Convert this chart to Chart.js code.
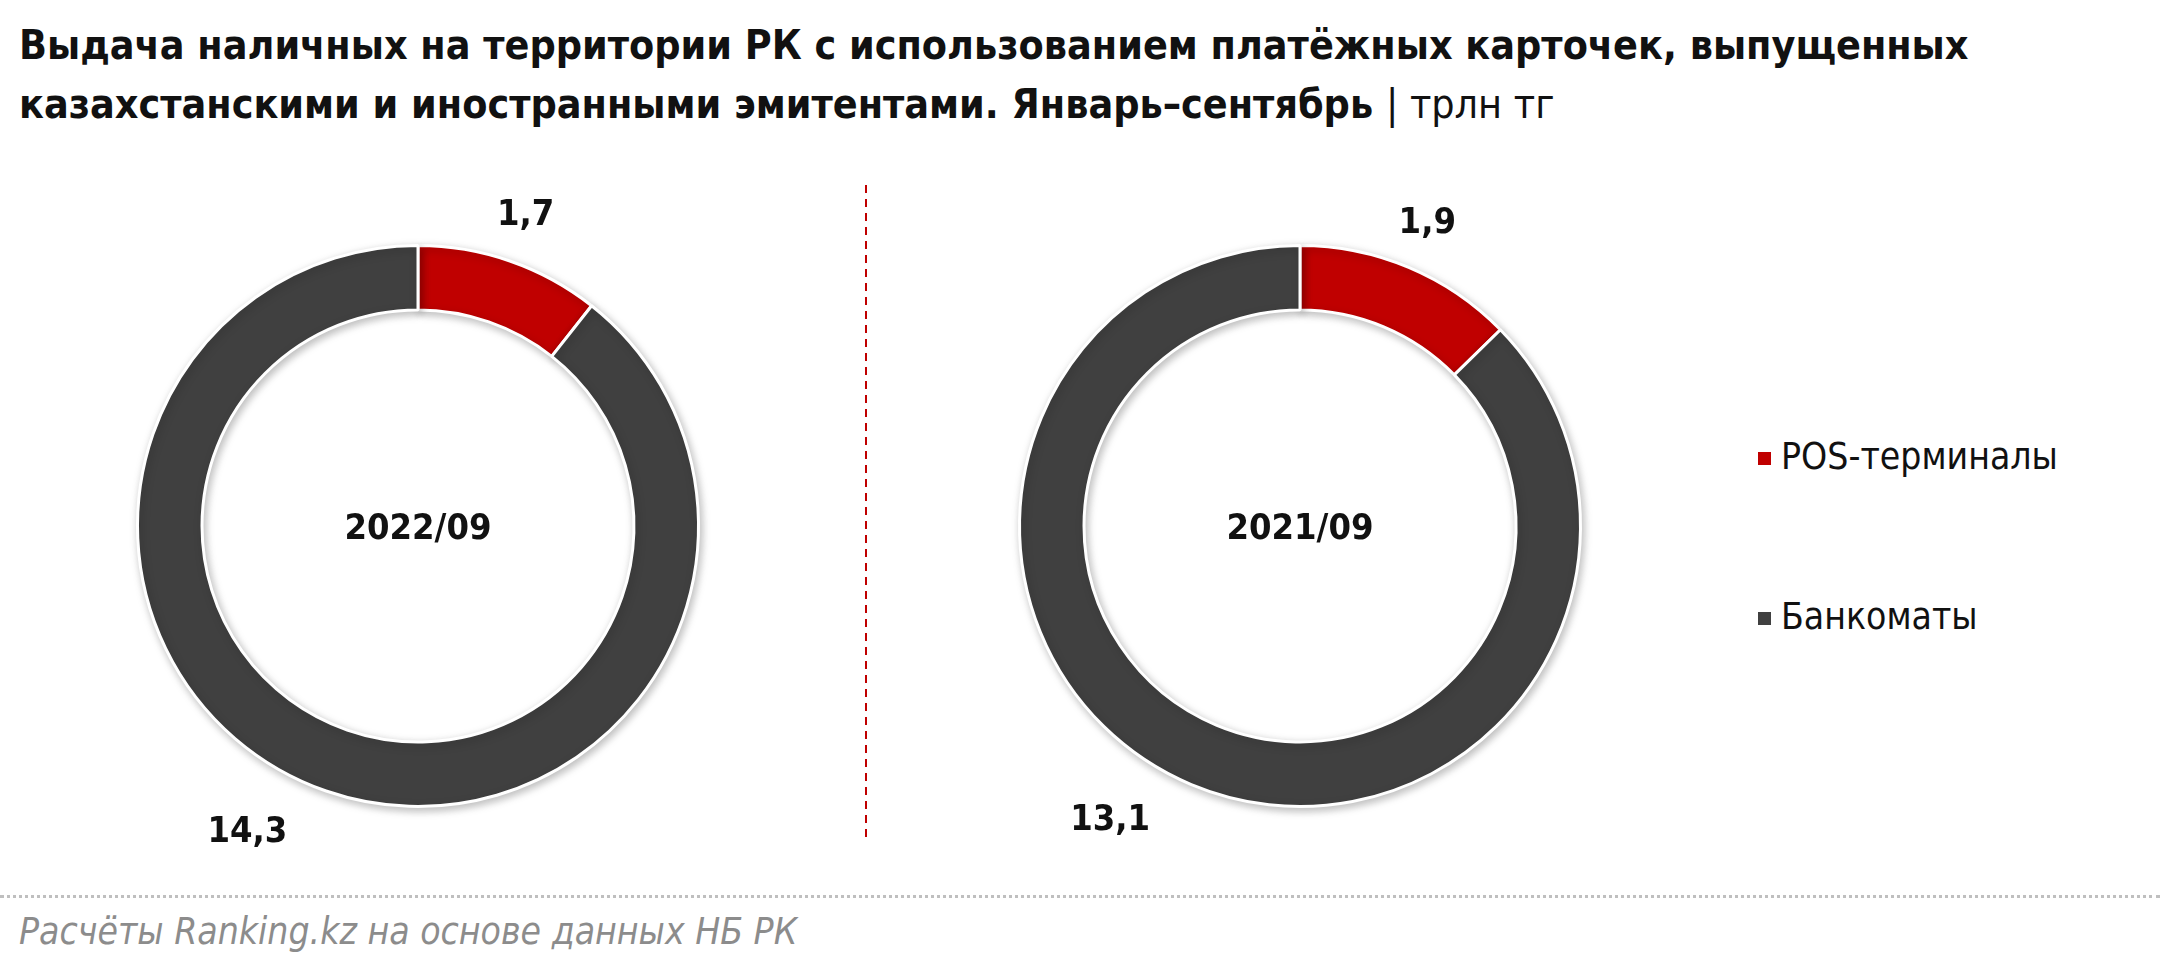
<!DOCTYPE html>
<html>
<head>
<meta charset="utf-8">
<script src="https://cdn.jsdelivr.net/npm/chart.js@4/dist/chart.umd.min.js"></script>
<style>
  html, body { margin: 0; padding: 0; background: #fff; }
  body { width: 2160px; height: 972px; position: relative; overflow: hidden;
         font-family: "Liberation Sans Narrow", "DejaVu Sans Condensed", "Liberation Sans", sans-serif; }
  .title { position: absolute; left: 19px; top: 16px; font-size: 40px; line-height: 59px;
           font-weight: bold; color: #111; white-space: nowrap; }
  .title .unit { font-weight: normal; }
  .box { position: absolute; width: 760px; height: 760px; top: 146px; }
  .divider { position: absolute; left: 865px; top: 185px; width: 2px; height: 655px;
             background: repeating-linear-gradient(to bottom, #c00000 0 8px, transparent 8px 14px); }
  .legend { position: absolute; left: 1758px; top: 430px; font-size: 37px; color: #111; }
  .legend div { height: 54px; line-height: 54px; margin-bottom: 106px; white-space: nowrap; }
  .legend span { display: inline-block; width: 13px; height: 13px; margin-right: 10px; vertical-align: middle; }
  .rule { position: absolute; left: 0; top: 895px; width: 2160px; height: 0;
          border-top: 3px dotted #bfbfbf; }
  .source { position: absolute; left: 19px; top: 910px; font-size: 37px; font-style: italic; color: #8c8c8c; }
</style>
</head>
<body>
<div class="title" id="title"><span id="line1">Выдача наличных на территории РК с использованием платёжных карточек, выпущенных</span><br>казахстанскими и иностранными эмитентами. Январь–сентябрь <span class="unit">| трлн тг</span></div>

<div class="box" style="left:38px"><canvas id="pie1"></canvas></div>
<div class="divider"></div>
<div class="box" style="left:920px"><canvas id="pie2"></canvas></div>
<div class="legend" id="legend"></div>

<div class="rule"></div>
<div class="source">Расчёты Ranking.kz на основе данных НБ РК</div>

<script>
// data, trln tenge
var categories = ['POS-терминалы', 'Банкоматы'];
var periods = ['2022/09', '2021/09'];
var posValues = [1.7, 1.9];
var atmValues = [14.3, 13.1];
var colors = ['#c00000', '#404040'];

var fontFamily = '"Liberation Sans Narrow", "DejaVu Sans Condensed", "Liberation Sans", sans-serif';

// title first line should run to about x=1970
var t = document.getElementById('title');
var w = document.getElementById('line1').getBoundingClientRect().width;
t.style.fontSize = (40 * 1950 / w) + 'px';

function fmt(v) {
    return v.toFixed(1).replace('.', ',');
}

// value labels outside the ring + period label in the middle
var ringLabels = {
    id: 'ringLabels',
    beforeDatasetsDraw: function (chart) {
        var ctx = chart.ctx;
        ctx.save();
        ctx.shadowColor = 'rgba(0,0,0,0.25)';
        ctx.shadowBlur = 8;
        ctx.shadowOffsetX = 2;
        ctx.shadowOffsetY = 3;
    },
    afterDatasetsDraw: function (chart, args, opts) {
        var ctx = chart.ctx;
        ctx.restore();
        var meta = chart.getDatasetMeta(0);
        var values = chart.data.datasets[0].data;
        ctx.save();
        ctx.font = 'bold 36px ' + fontFamily;
        ctx.fillStyle = '#111';
        ctx.textAlign = 'center';
        ctx.textBaseline = 'middle';
        var cx = 0, cy = 0;
        meta.data.forEach(function (arc, i) {
            var p = arc.getProps(['x', 'y', 'startAngle', 'endAngle', 'outerRadius'], true);
            var mid = (p.startAngle + p.endAngle) / 2 + opts.shift[i] * Math.PI / 180;
            var r = p.outerRadius + opts.offset[i];
            ctx.fillText(fmt(values[i]), p.x + Math.cos(mid) * r, p.y + Math.sin(mid) * r);
            cx = p.x;
            cy = p.y;
        });
        ctx.fillText(opts.center, cx, cy + 4);
        ctx.restore();
    }
};

function makePie(id, idx) {
    var ctx = document.getElementById(id);
    return new Chart(ctx, {
        type: 'doughnut',
        data: {
            labels: categories,
            datasets: [{
                data: [posValues[idx], atmValues[idx]],
                backgroundColor: colors,
                borderColor: '#ffffff',
                borderWidth: 3
            }]
        },
        options: {
            responsive: true,
            maintainAspectRatio: false,
            animation: false,
            cutout: '77%',
            layout: {padding: 98},
            plugins: {
                legend: {display: false},
                tooltip: {enabled: false},
                ringLabels: {center: periods[idx], shift: [0, 10], offset: [48, 70]}
            }
        },
        plugins: [ringLabels]
    });
}

makePie('pie1', 0);
makePie('pie2', 1);

// legend
var lg = document.getElementById('legend');
categories.forEach(function (c, i) {
    var row = document.createElement('div');
    row.innerHTML = '<span style="background:' + colors[i] + '"></span>' + c;
    lg.appendChild(row);
});
</script>
</body>
</html>
